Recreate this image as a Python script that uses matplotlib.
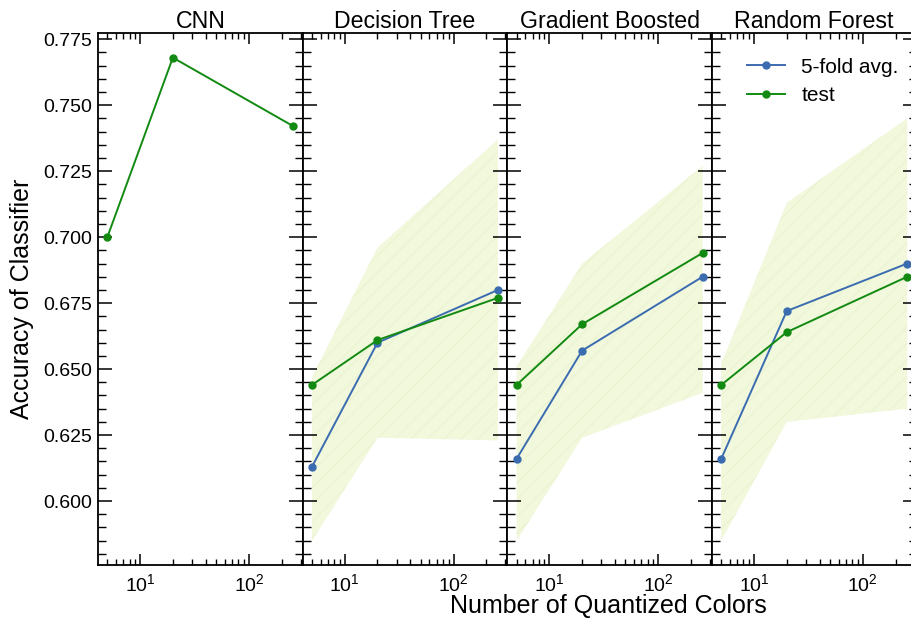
import numpy as np
import matplotlib
matplotlib.use("Agg")
import matplotlib.pyplot as plt
from matplotlib.ticker import MultipleLocator, AutoMinorLocator

plt.rcParams['font.family'] = ['Liberation Sans', 'DejaVu Sans']
plt.rcParams['hatch.linewidth'] = 0.7
plt.rcParams['hatch.color'] = '#e9f3cf'

# number of quantized colors
n_colors = [5, 20, 256]

titles = ["CNN", "Decision Tree", "Gradient Boosted", "Random Forest"]

cnn_test = [0.700, 0.768, 0.742]

dt_cv = [0.613, 0.660, 0.680]
dt_test = [0.644, 0.661, 0.677]
dt_lo = [0.585, 0.624, 0.623]
dt_hi = [0.647, 0.696, 0.737]

gb_cv = [0.616, 0.657, 0.685]
gb_test = [0.644, 0.667, 0.694]
gb_lo = [0.585, 0.624, 0.641]
gb_hi = [0.651, 0.690, 0.727]

rf_cv = [0.616, 0.672, 0.690]
rf_test = [0.644, 0.664, 0.685]
rf_lo = [0.585, 0.630, 0.635]
rf_hi = [0.652, 0.713, 0.745]

blue = '#3b6cb0'
green = '#128a12'
band = '#f1f8dc'

fig, axs = plt.subplots(1, 4, sharey=True, sharex=True, figsize=(9.12, 6.2), dpi=100)
fig.subplots_adjust(left=0.1075, right=1.005, top=0.946, bottom=0.089, wspace=0)

axs[0].plot(n_colors, cnn_test, color=green, marker='o', ms=5, lw=1.4)

models = [(dt_cv, dt_test, dt_lo, dt_hi),
          (gb_cv, gb_test, gb_lo, gb_hi),
          (rf_cv, rf_test, rf_lo, rf_hi)]
for ax, (cv, test, lo, hi) in zip(axs[1:], models):
    ax.fill_between(n_colors, lo, hi, facecolor=band, edgecolor='#e9f3cf',
                    hatch='//', linewidth=0)
    ax.plot(n_colors, cv, color=blue, marker='o', ms=5, lw=1.4, label='5-fold avg.')
    ax.plot(n_colors, test, color=green, marker='o', ms=5, lw=1.4, label='test')

for ax, t in zip(axs, titles):
    ax.set_xscale('log')
    ax.set_title(t, fontsize=16.7, pad=3)
    ax.yaxis.set_major_locator(MultipleLocator(0.025))
    ax.yaxis.set_minor_locator(AutoMinorLocator(5))
    ax.tick_params(which='both', direction='in', top=True, right=True, labelsize=14)
    ax.tick_params(axis='y', which='major', length=10, width=1.1, pad=4)
    ax.tick_params(axis='y', which='minor', length=5.5, width=1.0)
    ax.tick_params(axis='x', which='major', length=8, width=1.1, pad=6)
    ax.tick_params(axis='x', which='minor', length=4.5, width=1.0)
    for s in ax.spines.values():
        s.set_linewidth(1.3)

axs[0].set_ylabel("Accuracy of Classifier", fontsize=18, labelpad=7)
fig.text(0.667, 0.022, "Number of Quantized Colors", fontsize=18, ha='center', va='center')

axs[3].legend(loc='upper left', bbox_to_anchor=(0.08, 0.99), frameon=False,
              fontsize=15, handlelength=1.8, labelspacing=0.45)

fig.savefig("out.png", dpi=100)
